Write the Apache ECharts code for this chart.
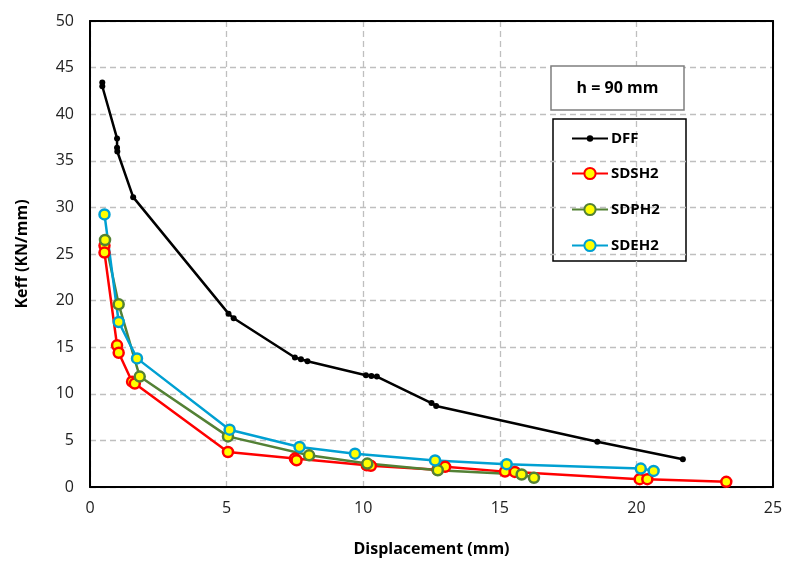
<!DOCTYPE html>
<html>
<head>
<meta charset="utf-8">
<script src="https://cdn.jsdelivr.net/npm/echarts@6/dist/echarts.min.js"></script>
<style>
html,body{margin:0;padding:0;background:#fff;}
#main{width:789px;height:562px;}
</style>
</head>
<body>
<div id="main"></div>
<script>
// Data (displacement mm, Keff KN/mm)
const dffX = [0.45, 0.45, 0.99, 0.99, 1.0, 1.58, 5.07, 5.26, 7.5, 7.72, 7.96, 10.1, 10.3, 10.5, 12.5, 12.67, 18.57, 21.7];
const dffY = [43.4, 43.0, 37.4, 36.4, 36.0, 31.1, 18.6, 18.1, 13.9, 13.7, 13.5, 12.0, 11.9, 11.85, 9.0, 8.7, 4.85, 2.98];

const sdshX = [0.53, 0.53, 0.99, 1.05, 1.54, 1.64, 5.05, 7.5, 7.56, 10.13, 10.28, 12.72, 13.0, 15.19, 15.55, 20.12, 20.4, 23.29];
const sdshY = [25.9, 25.15, 15.2, 14.4, 11.3, 11.1, 3.76, 3.05, 2.87, 2.33, 2.27, 1.85, 2.16, 1.65, 1.62, 0.84, 0.84, 0.55];

const sdphX = [0.55, 1.05, 1.82, 5.05, 8.02, 10.15, 12.73, 15.8, 16.25];
const sdphY = [26.5, 19.6, 11.85, 5.43, 3.4, 2.51, 1.8, 1.34, 0.98];

const sdehX = [0.53, 1.05, 1.72, 5.11, 7.67, 9.7, 12.63, 15.25, 20.16, 20.63];
const sdehY = [29.25, 17.7, 13.8, 6.15, 4.3, 3.58, 2.85, 2.45, 1.98, 1.73];

const seriesNames = ['DFF', 'SDSH2', 'SDPH2', 'SDEH2'];
const xTicks = [0, 5, 10, 15, 20, 25];
const yTicks = [0, 5, 10, 15, 20, 25, 30, 35, 40, 45, 50];
const boxText = 'h = 90 mm';

function pairs(xs, ys) { return xs.map((x, i) => [x, ys[i]]); }

const chart = echarts.init(document.getElementById('main'), null, {renderer: 'canvas'});
const FONT = "'Open Sans', 'Liberation Sans', sans-serif";

function mk(name, xs, ys, color, dff) {
  return {
    name: name,
    type: 'line',
    data: pairs(xs, ys),
    symbol: 'circle',
    symbolSize: dff ? 6 : 10,
    showAllSymbol: true,
    lineStyle: {color: color, width: 2.5},
    itemStyle: dff ? {color: color, borderColor: color, borderWidth: 0}
                   : {color: '#FFFF00', borderColor: color, borderWidth: 2.5},
    emphasis: {disabled: true},
    animation: false,
    z: dff ? 2 : 3
  };
}

const frameAxis = {
  type: 'value', min: 0,
  axisLine: {show: true, onZero: false, lineStyle: {color: '#000', width: 2}},
  axisTick: {show: false}, axisLabel: {show: false}, splitLine: {show: false}
};

const legendCommon = {
  orient: 'vertical', left: 571, itemWidth: 36, padding: 0, selectedMode: false,
  textStyle: {fontFamily: FONT, fontWeight: 'bold', fontSize: 15, color: '#000', padding: [0, 0, 0, -2]}
};

chart.setOption({
  animation: false,
  backgroundColor: '#fff',
  grid: {left: 90, right: 16, top: 21, bottom: 74, show: false},
  xAxis: [{
    type: 'value', min: xTicks[0], max: xTicks[xTicks.length - 1], interval: 5,
    name: 'Displacement (mm)', nameLocation: 'middle', nameGap: 54,
    nameTextStyle: {fontFamily: FONT, fontWeight: 'bold', fontSize: 16, color: '#000'},
    axisLine: {show: true, onZero: false, lineStyle: {color: '#000', width: 2}},
    axisTick: {show: false},
    axisLabel: {fontFamily: FONT, fontSize: 16, color: '#222', margin: 13},
    splitLine: {show: true, lineStyle: {color: '#bfbfbf', type: [6, 4], width: 1.3}}
  }, Object.assign({}, frameAxis, {position: 'top', max: xTicks[xTicks.length - 1]})],
  yAxis: [{
    type: 'value', min: yTicks[0], max: yTicks[yTicks.length - 1], interval: 5,
    name: 'Keff (KN/mm)', nameLocation: 'middle', nameGap: 60,
    nameTextStyle: {fontFamily: FONT, fontWeight: 'bold', fontSize: 16, color: '#000'},
    axisLine: {show: true, onZero: false, lineStyle: {color: '#000', width: 2}},
    axisTick: {show: false},
    axisLabel: {fontFamily: FONT, fontSize: 16, color: '#222', margin: 16},
    splitLine: {show: true, lineStyle: {color: '#bfbfbf', type: [6, 4], width: 1.3}}
  }, Object.assign({}, frameAxis, {position: 'right', max: yTicks[yTicks.length - 1]})],
  legend: [
    Object.assign({}, legendCommon, {data: [seriesNames[0]], top: 131, itemHeight: 8}),
    Object.assign({}, legendCommon, {data: seriesNames.slice(1), top: 166, itemHeight: 14, itemGap: 21})
  ],
  graphic: [
    {type: 'rect', x: 551, y: 66, shape: {width: 133, height: 44},
     style: {fill: '#fff', stroke: '#7f7f7f', lineWidth: 1.5}, z: 10},
    {type: 'text', x: 617.5, y: 88, z: 11,
     style: {text: boxText, font: "bold 16px 'Open Sans', sans-serif", fill: '#000', textAlign: 'center', textVerticalAlign: 'middle'}},
    {type: 'rect', x: 553, y: 119, shape: {width: 133, height: 142},
     style: {fill: '#fff', stroke: '#000', lineWidth: 1.5}, z: 0}
  ],
  series: [
    mk(seriesNames[0], dffX, dffY, '#000000', true),
    mk(seriesNames[1], sdshX, sdshY, '#FF0000', false),
    mk(seriesNames[2], sdphX, sdphY, '#538135', false),
    mk(seriesNames[3], sdehX, sdehY, '#00A0D2', false)
  ]
});
</script>
</body>
</html>
